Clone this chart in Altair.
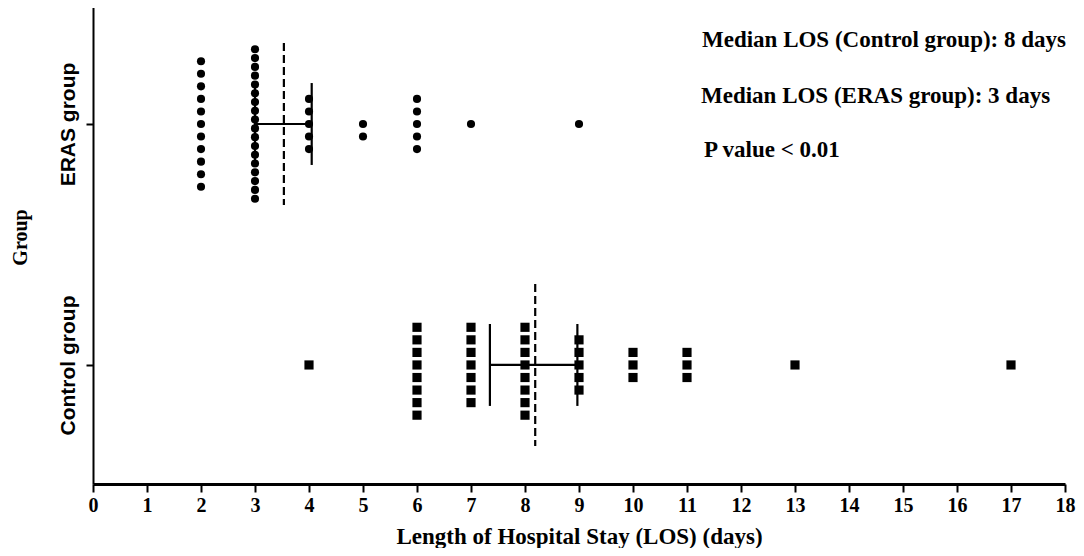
import altair as alt
import pandas as pd

# ---- data ----
groups = ["ERAS group", "Control group"]
group_pos = [2, 1]

eras_days = [2, 3, 4, 5, 6, 7, 9]
eras_counts = [11, 18, 5, 2, 5, 1, 1]

control_days = [4, 6, 7, 8, 9, 10, 11, 13, 17]
control_counts = [1, 8, 7, 8, 5, 3, 3, 1, 1]

ci_low = [3.0, 7.35]
ci_high = [4.05, 8.97]

notes = [
    "Median LOS (Control group): 8 days",
    "Median LOS (ERAS group): 3 days",
    "P value < 0.01",
]
x_ticks = list(range(0, 19))

# ---- tables ----
rows = []
for g, gp, days, counts in [
    (groups[0], group_pos[0], eras_days, eras_counts),
    (groups[1], group_pos[1], control_days, control_counts),
]:
    for d, c in zip(days, counts):
        for _ in range(c):
            rows.append({"group": g, "gpos": gp, "los": d})
pts = pd.DataFrame(rows)

ci = pd.DataFrame({"group": groups, "gpos": group_pos, "lo": ci_low, "hi": ci_high})

Y_DOMAIN = [0.506, 2.498]
x_scale = alt.Scale(domain=[0, 18], nice=False, zero=False)
y_scale = alt.Scale(domain=Y_DOMAIN, nice=False, zero=False)

x_axis = alt.Axis(
    title="Length of Hospital Stay (LOS) (days)",
    values=x_ticks, format="d", grid=False,
    tickSize=8, tickWidth=2, tickColor="black",
    domainWidth=3, domainColor="black",
    labelFont="Liberation Serif", labelFontWeight="bold", labelFontSize=20,
    labelColor="black", labelPadding=3, labelFlush=False,
    titleFont="Liberation Serif", titleFontWeight="bold", titleFontSize=23,
    titleColor="black", titlePadding=10,
)
y_axis = alt.Axis(
    title="Group",
    values=[1, 2], grid=False,
    labelExpr="datum.value == 2 ? 'ERAS group' : 'Control group'",
    labelAngle=270, labelAlign="center", labelBaseline="bottom",
    tickSize=7, tickWidth=2, tickColor="black",
    domainWidth=2, domainColor="black",
    labelFont="Liberation Sans", labelFontWeight="bold", labelFontSize=21,
    labelColor="black", labelPadding=8,
    titleFont="Liberation Serif", titleFontWeight="bold", titleFontSize=20,
    titleColor="black", titleX=-73, titleY=233,
    titleAlign="center", titleBaseline="middle", titleAngle=270,
)

stacked = (
    alt.Chart(pts)
    .transform_window(idx="row_number()", groupby=["group", "los"])
    .transform_joinaggregate(n="count()", groupby=["group", "los"])
    .transform_calculate(
        k="datum.n > 13 ? (datum.idx - 1) - (datum.n - 1) / 2 : (datum.idx - 1) - floor((datum.n - 1) / 2)",
        sp="datum.n > 13 ? 0.62 / (datum.n - 1) : 0.0521",
    )
    .transform_calculate(ypos="datum.gpos - datum.k * datum.sp")
)

eras_pts = stacked.transform_filter(alt.datum.group == groups[0]).mark_point(
    shape="circle", filled=True, color="black", size=66, opacity=1
).encode(
    x=alt.X("los:Q", scale=x_scale, axis=x_axis),
    y=alt.Y("ypos:Q", scale=y_scale, axis=y_axis),
)
ctrl_pts = stacked.transform_filter(alt.datum.group == groups[1]).mark_point(
    shape="square", filled=True, color="black", size=84, opacity=1
).encode(
    x=alt.X("los:Q", scale=x_scale),
    y=alt.Y("ypos:Q", scale=y_scale),
)

ci_line = alt.Chart(ci).mark_rule(color="black", strokeWidth=2.2).encode(
    x=alt.X("lo:Q", scale=x_scale), x2="hi:Q",
    y=alt.Y("gpos:Q", scale=y_scale),
)
caps = (
    alt.Chart(ci)
    .transform_fold(["lo", "hi"], as_=["end", "xv"])
    .transform_calculate(y1="datum.gpos + 0.17", y2="datum.gpos - 0.17")
    .mark_rule(color="black", strokeWidth=2.2)
    .encode(
        x=alt.X("xv:Q", scale=x_scale),
        y=alt.Y("y1:Q", scale=y_scale), y2="y2:Q",
    )
)
mean_line = (
    alt.Chart(pts)
    .transform_aggregate(mean_los="mean(los)", groupby=["group", "gpos"])
    .transform_calculate(y1="datum.gpos + 0.336", y2="datum.gpos - 0.336")
    .mark_rule(color="black", strokeWidth=2.2, strokeDash=[8, 4])
    .encode(
        x=alt.X("mean_los:Q", scale=x_scale),
        y=alt.Y("y1:Q", scale=y_scale), y2="y2:Q",
    )
)

note_layers = []
for txt, yy, xx in zip(notes, [43, 99, 153], [609, 608, 611]):
    note_layers.append(
        alt.Chart(pts).mark_text(
            text=txt, align="left", baseline="alphabetic",
            font="Liberation Serif", fontWeight="bold", fontSize=23, color="black",
        ).encode(x=alt.value(xx), y=alt.value(yy)).transform_aggregate(c="count()")
    )

chart = (
    alt.layer(eras_pts, ctrl_pts, ci_line, caps, mean_line, *note_layers)
    .properties(
        width=972, height=480,
        autosize=alt.AutoSizeParams(type="none"),
        padding={"left": 85, "top": -4, "right": 11, "bottom": 64},
        background="white",
    )
    .configure_view(stroke=None)
)

chart.save("out.html", embed_options={"renderer": "svg", "actions": False})
